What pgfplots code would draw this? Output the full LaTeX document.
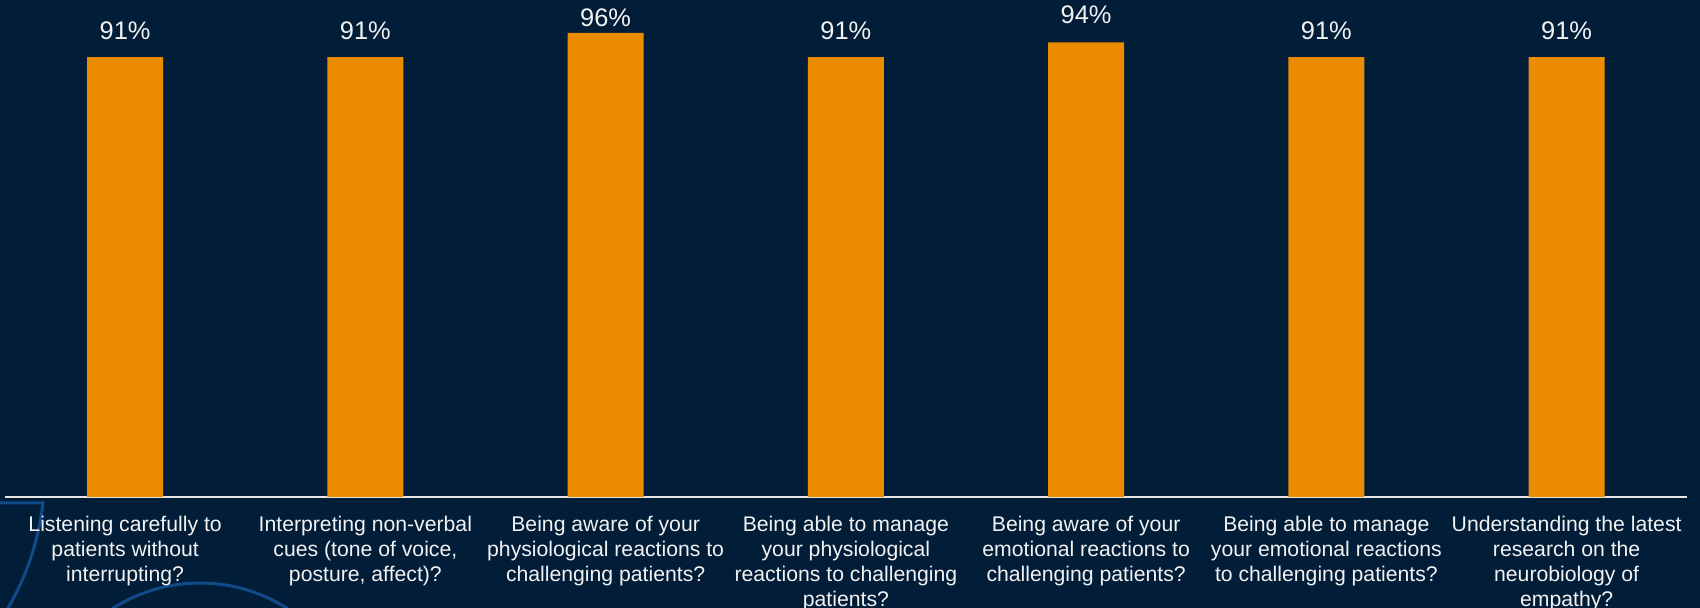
\documentclass[border=0pt]{standalone}
\usepackage{fontspec}
\setmainfont{Liberation Sans}
\usepackage{pgfplots}
\usepackage{pgfplotstable}
\pgfplotsset{compat=1.18}
\definecolor{bg}{HTML}{021D38}
\definecolor{barorange}{HTML}{EB8C00}
\definecolor{arcblue}{HTML}{114A88}
\definecolor{txt}{HTML}{F2F2F2}
\definecolor{axln}{HTML}{E6E6E6}
\pgfplotstableread{
x y off
0 91 8.5
1 91 8.5
2 96 3.0
3 91 8.5
4 94 9.0
5 91 8.5
6 91 8.5
}\datatable
\begin{document}
\begin{tikzpicture}
\useasboundingbox (0,0) rectangle (850pt,304pt);
\clip (0,0) rectangle (850pt,304pt);
\fill[bg] (0,0) rectangle (850pt,304pt);
\begin{scope}[x=0.5pt,y=-0.5pt,yshift=304pt]
\draw[arcblue, line width=1.5pt] (-5,503) -- (43,503) .. controls (38,545) and (25,580) .. (4,615);
\draw[arcblue, line width=1.5pt] (200,745) circle (162);
\end{scope}
\begin{axis}[
  at={(2.5pt,55.5pt)}, anchor=south west,
  scale only axis, width=840.875pt, height=241.75pt,
  xmin=-0.5, xmax=6.5, ymin=0, ymax=100,
  axis y line=none, axis x line*=bottom,
  x axis line style={draw=axln, line width=0.85pt},
  ytick=\empty,
  xtick=data, major tick length=0pt, xtick style={draw=none},
  xticklabels={
    {Listening carefully to\\patients without\\interrupting?},
    {Interpreting non-verbal\\cues (tone of voice,\\posture, affect)?},
    {Being aware of your\\physiological reactions to\\challenging patients?},
    {Being able to manage\\your physiological\\reactions to challenging\\patients?},
    {Being aware of your\\emotional reactions to\\challenging patients?},
    {Being able to manage\\your emotional reactions\\to challenging patients?},
    {Understanding the latest\\research on the\\neurobiology of\\empathy?}},
  xticklabel style={font=\fontsize{10.6}{12.5}\selectfont, text=txt, align=center, anchor=north, inner sep=0pt, yshift=-9.3pt},
  ybar, bar width=38pt,
  clip=false,
]
\addplot[fill=barorange, draw=none,
  visualization depends on={\thisrow{off} \as \labeloff},
  nodes near coords={\pgfmathprintnumber[assume math mode=true]{\pgfplotspointmeta}\%},
  nodes near coords style={font=\fontsize{12.7}{14}\selectfont, text=txt, anchor=south, inner sep=0pt, yshift=\labeloff pt},
] table[x=x, y=y] {\datatable};
\end{axis}
\end{tikzpicture}
\end{document}
